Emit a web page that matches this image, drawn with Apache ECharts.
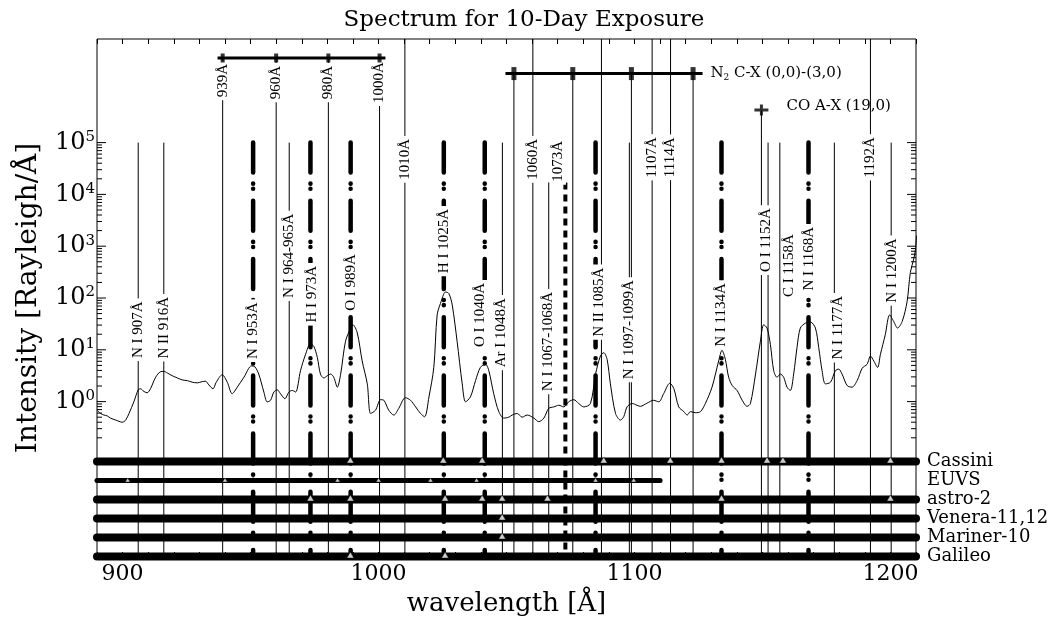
<!DOCTYPE html>
<html>
<head>
<meta charset="utf-8">
<script src="https://cdn.jsdelivr.net/npm/echarts@6/dist/echarts.min.js"></script>
<style>
html, body { margin: 0; padding: 0; background: #fff; }
#chart { width: 1062px; height: 622px; }
</style>
</head>
<body>
<div id="chart"></div>
<script>
// spectrum (wavelength in Å, intensity in Rayleigh/Å)
const specWave = [890.1, 891.4, 892.7, 894.0, 895.3, 897.3, 899.9, 901.2, 902.5, 904.4, 906.1, 907.0, 908.3, 909.6, 910.9, 912.9, 914.8, 916.1, 917.5, 919.4, 921.4, 923.3, 925.3, 927.2, 929.2, 931.1, 932.4, 933.7, 935.3, 936.6, 938.9, 940.9, 942.8, 944.8, 947.4, 950.4, 951.7, 953.2, 955.2, 956.5, 957.8, 959.1, 960.4, 961.7, 963.4, 965.0, 966.3, 967.6, 969.5, 971.5, 973.4, 974.7, 976.1, 977.3, 978.6, 980.0, 981.3, 982.5, 983.9, 985.2, 987.1, 989.1, 990.0, 991.7, 993.6, 995.6, 996.9,
  998.8, 1000.8, 1002.1, 1004.0, 1006.0, 1007.9, 1010.5, 1012.5, 1014.5, 1016.4, 1018.0, 1019.7, 1021.6, 1022.9, 1024.2, 1026.2, 1027.5, 1028.8, 1030.7, 1032.7, 1034.0, 1035.9, 1037.9, 1039.8, 1041.8, 1043.1, 1045.0, 1047.0, 1048.9, 1050.9, 1052.2, 1054.2, 1056.1, 1058.1, 1060.7, 1062.6, 1064.6, 1066.5, 1068.5, 1070.4, 1072.4, 1074.3, 1076.3, 1078.2, 1080.2, 1082.8, 1084.8, 1086.7, 1088.0, 1089.3, 1090.6, 1092.6, 1094.5, 1095.8, 1097.1, 1099.1, 1101.0,
  1102.3, 1105.0, 1107.5, 1109.5, 1111.4, 1113.8, 1115.4, 1117.3, 1119.3, 1120.6, 1121.9, 1123.8, 1125.8, 1127.7, 1130.3, 1132.9, 1134.2, 1135.5, 1136.8, 1138.2, 1140.1, 1142.1, 1144.0, 1145.3, 1147.3, 1149.2, 1150.5, 1151.8, 1153.1, 1154.4, 1155.7, 1157.0, 1158.3, 1159.6, 1160.9, 1162.2, 1163.5, 1164.8, 1166.8, 1168.8, 1170.7, 1172.0, 1173.3, 1174.6, 1176.6, 1178.5, 1179.8, 1181.1, 1183.1, 1185.0, 1187.0, 1189.0, 1190.9, 1192.2, 1193.5, 1195.0, 1196.1, 1198.0, 1199.7, 1201.3, 1202.8, 1204.6, 1206.5, 1207.8, 1209.1, 1209.8, 1210.2];
const specInt = [0.68, 0.59, 0.55, 0.53, 0.48, 0.44, 0.40, 0.44, 0.59, 0.99, 1.69, 1.77, 1.57, 1.48, 1.77, 2.95, 3.77, 3.83, 3.56, 3.16, 2.86, 2.62, 2.54, 2.37, 2.30, 2.43, 2.47, 2.10, 1.77, 2.37, 3.30, 2.37, 1.42, 1.90, 2.95, 4.90, 4.69, 3.40, 1.53, 0.99, 1.06, 1.53, 1.69, 1.42, 1.14, 1.53, 1.64, 1.53, 3.94, 8.18, 13.1, 11.7, 7.08, 3.40, 2.86, 3.16, 3.40, 2.95, 1.90, 3.40, 14.6, 26.3, 30.4, 21.1, 6.10, 2.20, 0.59,
  0.68, 1.09, 1.06, 0.68, 0.55, 0.74, 1.19, 1.06, 0.79, 0.59, 0.51, 1.23, 4.57, 47.1, 78.5, 130.6, 121.6, 72.9, 14.6, 2.20, 0.99, 1.23, 2.54, 4.57, 5.27, 3.94, 1.42, 0.64, 0.48, 0.50, 0.55, 0.59, 0.50, 0.55, 0.48, 0.41, 0.48, 0.74, 0.79, 0.85, 0.79, 0.99, 1.09, 0.92, 0.79, 0.92, 3.40, 7.59, 8.79, 6.56, 2.20, 0.59, 0.44, 0.51, 0.79, 0.92, 0.85,
  0.81, 0.94, 1.06, 0.99, 1.42, 2.26, 1.77, 0.79, 0.64, 0.55, 0.64, 0.61, 0.64, 0.92, 1.90, 6.10, 9.75, 6.56, 2.95, 2.04, 1.64, 1.06, 0.81, 0.92, 3.40, 14.6, 30.4, 26.3, 12.7, 3.94, 2.95, 3.40, 2.95, 1.90, 1.64, 3.40, 11.0, 26.3, 32.7, 34.2, 26.3, 11.0, 3.94, 2.20, 2.37, 3.94, 4.24, 3.40, 2.04, 1.90, 2.54, 4.43, 5.27, 7.59, 6.10, 4.57, 8.18, 19.6, 47.1, 35.2, 26.3, 35.2, 84.3, 313, 562, 871, 1600];

// thin marker lines: wavelength and the intensity they hang from
const thinWave = [906.1, 916.1, 939.1, 960.0, 965.1, 980.4, 1000.4, 1010.3, 1048.4, 1052.9, 1060.3, 1066.5, 1075.9, 1087.1, 1098.0, 1098.8, 1106.9, 1114.1, 1122.9, 1149.6, 1152.2, 1156.8, 1178.1, 1192.2, 1200.3];
const thinTop = [1e5, 1e5, 4.3e6, 4.3e6, 1e5, 4.3e6, 4.3e6, 1e7, 1e5, 2.15e6, 1e7, 1.7e4, 2.15e6, 1e7, 1e5, 2.15e6, 1e7, 1e7, 2.15e6, 4.25e5, 1e5, 1e5, 1e5, 1e7, 1e5];
// strong lines (thick dash-dot) and the 1073 line (thick dashed)
const strongWave = [951.0, 973.4, 989.1, 1025.5, 1041.5, 1084.8, 1134.0, 1168.0];
const strongTop = 1e5;
const dashedWave = [1073.0];
const dashedTop = 1.7e4;

// line labels
const labelText = ['939Å', '960Å', '980Å', '1000Å', '1010Å', '1060Å', '1073Å', '1107Å', '1114Å', '1192Å',
  'N I 907Å', 'N II 916Å', 'N I 953Å', 'N I 964-965Å', 'H I 973Å', 'O I 989Å', 'H I 1025Å', 'O I 1040Å', 'Ar I 1048Å',
  'N I 1067-1068Å', 'N II 1085Å', 'N I 1097-1099Å', 'N I 1134Å', 'O I 1152Å', 'C I 1158Å', 'N I 1168Å', 'N I 1177Å', 'N I 1200Å'];
const labelWave = [939.1, 960.0, 980.4, 1000.4, 1010.3, 1060.3, 1070.3, 1106.9, 1114.1, 1192.2,
  906.1, 916.1, 951.0, 965.1, 974.1, 989.1, 1025.5, 1039.8, 1047.7, 1066.4, 1086.3, 1097.7, 1134.0, 1151.6, 1160.5, 1168.4, 1179.7, 1200.7];
const labelAt = [1.58e6, 1.44e6, 1.44e6, 1.44e6, 4.75e4, 4.75e4, 4.35e4, 5.2e4, 5.2e4, 5.2e4,
  24.4, 26.7, 23.4, 651, 118, 200, 1256, 47, 21.4, 14.4, 83.2, 24.4, 47, 1312, 421, 571, 26.7, 338];

// brackets
const bracketA = [937.1, 1002.7], bracketAY = 4.3e6, bracketATicks = [939.1, 960.0, 980.4, 1000.4];
const bracketB = [1049.6, 1126.6], bracketBY = 2.15e6, bracketBTicks = [1052.9, 1075.9, 1098.8, 1122.9];
const coBand = [1149.6, 4.25e5];
const notes = [
  { text: '{a|N}{s|2}{a| C-X (0,0)-(3,0)}', at: [1129.7, 2.15e6] },
  { text: '{a|CO A-X (19,0)}', at: [1159.4, 5.0e5] }
];

// missions and the lines each one covers
const missions = ['Cassini', 'EUVS', 'astro-2', 'Venera-11,12', 'Mariner-10', 'Galileo'];
const missionEnd = [1210, 1110, 1210, 1210, 1210, 1210];
const missionLines = [
  [989, 1025.3, 1040.5, 1088, 1114, 1134, 1151.8, 1158, 1200],
  [902, 940, 984, 1000, 1020.3, 1038.3, 1084.8, 1099.7],
  [973.4, 989, 1026, 1040.5, 1048.3, 1066, 1134, 1200],
  [1048.3],
  [1048.3],
  [989, 1026]
];

const decades = [0, 1, 2, 3, 4, 5];
const minorFactors = [2, 3, 4, 5, 6, 7, 8, 9];

const xMin = 890, xMax = 1210, yMin = 1e-3, yMax = 1e7;
const serif = 'DejaVu Serif';
const narrow = 'Liberation Serif';

const majorTicks = decades.map(d => Math.pow(10, d));
const minorTicks = [];
for (let d = -1; d < 5; d++) {
  minorFactors.forEach(k => { const v = k * Math.pow(10, d); if (v >= 0.2) minorTicks.push(v); });
}

function vline(width, dash, cap) {
  return function (params, api) {
    const a = api.coord([api.value(0), api.value(1)]);
    const b = api.coord([api.value(0), yMin]);
    return {
      type: 'line',
      shape: { x1: a[0], y1: a[1], x2: b[0], y2: b[1] },
      style: { stroke: '#000', lineWidth: width, lineDash: dash || null, lineCap: cap || 'butt' }
    };
  };
}

function yTick(len) {
  return function (params, api) {
    const v = api.value(1);
    const l = api.coord([xMin, v]);
    const r = api.coord([xMax, v]);
    return {
      type: 'group',
      children: [
        { type: 'line', shape: { x1: l[0], y1: l[1], x2: l[0] + len, y2: l[1] }, style: { stroke: '#000', lineWidth: 1 } },
        { type: 'line', shape: { x1: r[0], y1: r[1], x2: r[0] - len, y2: r[1] }, style: { stroke: '#000', lineWidth: 1 } }
      ]
    };
  };
}

const series = [
  {
    type: 'custom', name: 'thin', z: 1, xAxisIndex: 0, yAxisIndex: 0,
    data: thinWave.map((w, i) => [w, thinTop[i]]),
    renderItem: vline(1)
  },
  {
    type: 'custom', name: 'strong', z: 2, xAxisIndex: 0, yAxisIndex: 0,
    data: strongWave.map(w => [w, strongTop]),
    renderItem: vline(4.5, [30, 11, 0.1, 5, 0.1, 12], 'round')
  },
  {
    type: 'custom', name: 'dashed', z: 2, xAxisIndex: 0, yAxisIndex: 0,
    data: dashedWave.map(w => [w, dashedTop]),
    renderItem: vline(4, [7, 5])
  },
  {
    type: 'custom', name: 'labels', z: 3, xAxisIndex: 0, yAxisIndex: 0,
    data: labelWave.map((w, i) => [w, labelAt[i]]),
    renderItem: function (params, api) {
      const p = api.coord([api.value(0), api.value(1)]);
      return {
        type: 'text', x: p[0], y: p[1], rotation: Math.PI / 2,
        style: {
          text: labelText[params.dataIndex], fontFamily: narrow, fontSize: 15, fill: '#000',
          align: 'center', verticalAlign: 'middle', backgroundColor: '#fff', padding: [0, 3]
        }
      };
    }
  },
  {
    type: 'line', name: 'spectrum', z: 5, xAxisIndex: 0, yAxisIndex: 0,
    data: specWave.map((w, i) => [w, specInt[i]]),
    symbol: 'none', smooth: 0.3, clip: true,
    lineStyle: { color: '#000', width: 1 }
  },
  {
    type: 'line', z: 4, xAxisIndex: 0, yAxisIndex: 0, symbol: 'none',
    data: bracketA.map(w => [w, bracketAY]),
    lineStyle: { color: '#000', width: 3 }
  },
  {
    type: 'line', z: 4, xAxisIndex: 0, yAxisIndex: 0, symbol: 'none',
    data: bracketB.map(w => [w, bracketBY]),
    lineStyle: { color: '#000', width: 3 }
  },
  {
    type: 'scatter', z: 4, xAxisIndex: 0, yAxisIndex: 0, symbol: 'rect', symbolSize: [4, 9],
    data: bracketATicks.map(w => [w, bracketAY]), itemStyle: { color: '#000' }
  },
  {
    type: 'scatter', z: 4, xAxisIndex: 0, yAxisIndex: 0, symbol: 'rect', symbolSize: [5, 13],
    data: bracketBTicks.map(w => [w, bracketBY]), itemStyle: { color: '#000' }
  },
  {
    type: 'scatter', z: 4, xAxisIndex: 0, yAxisIndex: 0,
    symbol: 'path://M0,4H14V7H0Z M5.5,0H8.5V11H5.5Z', symbolSize: [14, 11], symbolKeepAspect: false,
    data: [coBand], itemStyle: { color: '#000' }
  },
  {
    type: 'custom', z: 4, xAxisIndex: 0, yAxisIndex: 0,
    data: notes.map(n => n.at),
    renderItem: function (params, api) {
      const p = api.coord([api.value(0), api.value(1)]);
      return {
        type: 'text', x: p[0], y: p[1],
        style: {
          text: notes[params.dataIndex].text, align: 'left', verticalAlign: 'middle',
          rich: {
            a: { fontFamily: serif, fontSize: 15, fill: '#000', lineHeight: 18 },
            s: { fontFamily: serif, fontSize: 9, fill: '#000', lineHeight: 18, verticalAlign: 'bottom', padding: [6, 0, 0, 0] }
          }
        }
      };
    }
  },
  {
    type: 'custom', z: 6, xAxisIndex: 0, yAxisIndex: 0,
    data: majorTicks.map(v => [xMin, v]), renderItem: yTick(9)
  },
  {
    type: 'custom', z: 6, xAxisIndex: 0, yAxisIndex: 0,
    data: minorTicks.map(v => [xMin, v]), renderItem: yTick(5)
  }
];

missions.forEach((m, i) => {
  series.push({
    type: 'line', z: 6, xAxisIndex: 2, yAxisIndex: 1, symbol: 'none', clip: false,
    data: [[xMin, m], [missionEnd[i], m]],
    lineStyle: { color: '#000', width: m === 'EUVS' ? 5 : 8, cap: 'round' }
  });
  series.push({
    type: 'scatter', z: 7, xAxisIndex: 2, yAxisIndex: 1, symbol: 'triangle',
    symbolSize: m === 'EUVS' ? [5, 4] : [7, 6], symbolOffset: [0, m === 'EUVS' ? -0.5 : -1.5],
    data: missionLines[i].map(w => [w, m]),
    itemStyle: { color: '#fff', borderColor: '#000', borderWidth: 0.5 }
  });
});

const chart = echarts.init(document.getElementById('chart'));
chart.setOption({
  animation: false,
  backgroundColor: '#fff',
  title: {
    text: 'Spectrum for 10-Day Exposure', left: 519, top: 4, textAlign: 'center',
    textStyle: { fontFamily: serif, fontSize: 23, fontWeight: 'normal', color: '#000' }
  },
  grid: [
    { left: 97, right: 146, top: 39, bottom: 56, show: true, borderColor: '#000', borderWidth: 1, backgroundColor: 'transparent' },
    { left: 97, right: 146, top: 452, bottom: 56 }
  ],
  xAxis: [
    {
      gridIndex: 0, type: 'value', min: xMin, max: xMax, interval: 10, position: 'bottom',
      axisLine: { show: false }, splitLine: { show: false },
      axisTick: { inside: true, length: 5, lineStyle: { color: '#000' } },
      axisLabel: {
        margin: 6, fontFamily: serif, fontSize: 22, color: '#000',
        formatter: v => (Math.round(v) % 100 === 0 ? String(Math.round(v)) : '')
      },
      name: 'wavelength [Å]', nameLocation: 'middle', nameGap: 34,
      nameTextStyle: { fontFamily: serif, fontSize: 26, color: '#000' }
    },
    {
      gridIndex: 0, type: 'value', min: xMin, max: xMax, interval: 10, position: 'top',
      axisLine: { show: false }, splitLine: { show: false }, axisLabel: { show: false },
      axisTick: { inside: true, length: 5, lineStyle: { color: '#000' } }
    },
    { gridIndex: 1, type: 'value', min: xMin, max: xMax, show: false }
  ],
  yAxis: [
    {
      gridIndex: 0, type: 'log', logBase: 10, min: yMin, max: yMax, interval: 1, splitNumber: 10,
      axisLine: { show: false }, axisTick: { show: false }, splitLine: { show: false },
      axisLabel: {
        margin: 2,
        formatter: v => {
          const e = Math.round(Math.log10(v));
          return (e >= 0 && e <= 5) ? '{b|10}{s|' + e + '}' : '';
        },
        rich: {
          b: { fontFamily: serif, fontSize: 24, color: '#000', lineHeight: 26 },
          s: { fontFamily: serif, fontSize: 15, color: '#000', lineHeight: 15, verticalAlign: 'top' }
        }
      },
      name: 'Intensity [Rayleigh/Å]', nameLocation: 'middle', nameGap: 54,
      nameTextStyle: { fontFamily: serif, fontSize: 28, color: '#000' }
    },
    {
      gridIndex: 1, type: 'category', data: missions, inverse: true, position: 'right',
      axisLine: { show: false }, axisTick: { show: false }, splitLine: { show: false },
      axisLabel: { interval: 0, margin: 11, fontFamily: serif, fontSize: 18, color: '#000' }
    }
  ],
  series: series
});
</script>
</body>
</html>
